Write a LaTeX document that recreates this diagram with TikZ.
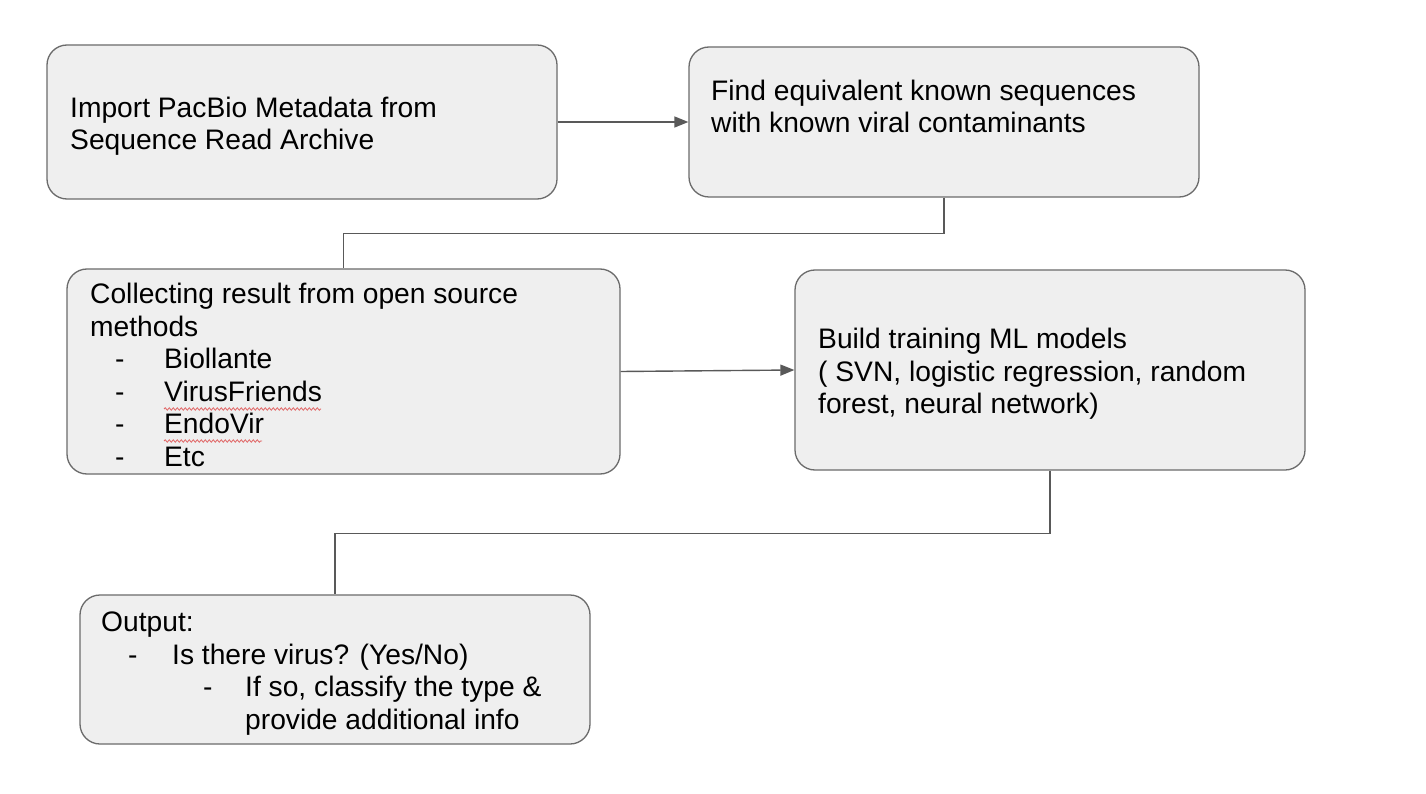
\documentclass[tikz,border=0pt]{standalone}
\usepackage{fontspec}
\setmainfont{Liberation Sans}
\usetikzlibrary{arrows.meta,decorations.pathmorphing}
\definecolor{boxfill}{HTML}{EFEFEF}
\definecolor{boxline}{HTML}{6B6B6B}
\definecolor{connclr}{HTML}{595959}
\definecolor{spell}{HTML}{E06666}
\newcommand\dashitem[3]{\hspace*{#1pt}\makebox[#2pt][l]{-}#3}
\begin{document}
\begin{tikzpicture}[x=1pt,y=-1pt,
  stepbox/.style={draw=boxline, fill=boxfill, line width=1.3pt, rounded corners=20pt, inner sep=0pt},
  txt/.style={anchor=west, align=left, inner sep=0pt, font=\fontsize{28.2}{32.5}\selectfont},
  conn/.style={draw=connclr, line width=1.4pt},
  arr/.style={conn, -{Triangle[length=14pt,width=11pt]}},
  squig/.style={draw=spell, line width=0.8pt, decorate, decoration={snake, amplitude=1.2pt, segment length=4pt}}
  ]
\useasboundingbox[fill=white] (0,0) rectangle (1426,794);
% boxes
\node[stepbox, minimum width=510pt, minimum height=154pt] (b1) at (302,122) {};
\node[stepbox, minimum width=510pt, minimum height=150pt] (b2) at (944,122) {};
\node[stepbox, minimum width=553pt, minimum height=205pt] (b3) at (343.5,371.5) {};
\node[stepbox, minimum width=510pt, minimum height=200pt] (b4) at (1050,370) {};
\node[stepbox, minimum width=510pt, minimum height=149pt] (b5) at (335,669.5) {};
% texts
\node[txt] (t1) at (70,126) {Import PacBio Metadata from\\Sequence Read Archive};
\node[txt] (t2) at (711,106.5) {Find equivalent known sequences\\with known viral contaminants};
\node[txt] (t3) at (90,375) {Collecting result from open source\\methods\\
  \dashitem{25}{49}{Biollante}\\
  \dashitem{25}{49}{VirusFriends}\\
  \dashitem{25}{49}{EndoVir}\\
  \dashitem{25}{49}{Etc}};
\node[txt] (t4) at (818,374) {Build training ML models\\( SVN, logistic regression, random\\forest, neural network)};
\node[txt] (t5) at (101,673.5) {Output:\\
  \dashitem{27}{44}{Is there virus? (Yes/No)}\\
  \dashitem{102}{42}{If so, classify the type \&}\\
  \hspace*{144pt}provide additional info};
% spell-check underlines
\draw[squig] (164,409) -- (321,409);
\draw[squig] (164,441) -- (262,441);
% connectors
\draw[arr] (b1.east) -- (b2.west);
\draw[conn] (b2.south) -- ++(0,36) -| (b3.north);
\draw[arr] (b3.east) -- (b4.west);
\draw[conn] (b4.south) -- ++(0,63) -| (b5.north);
\end{tikzpicture}
\end{document}
